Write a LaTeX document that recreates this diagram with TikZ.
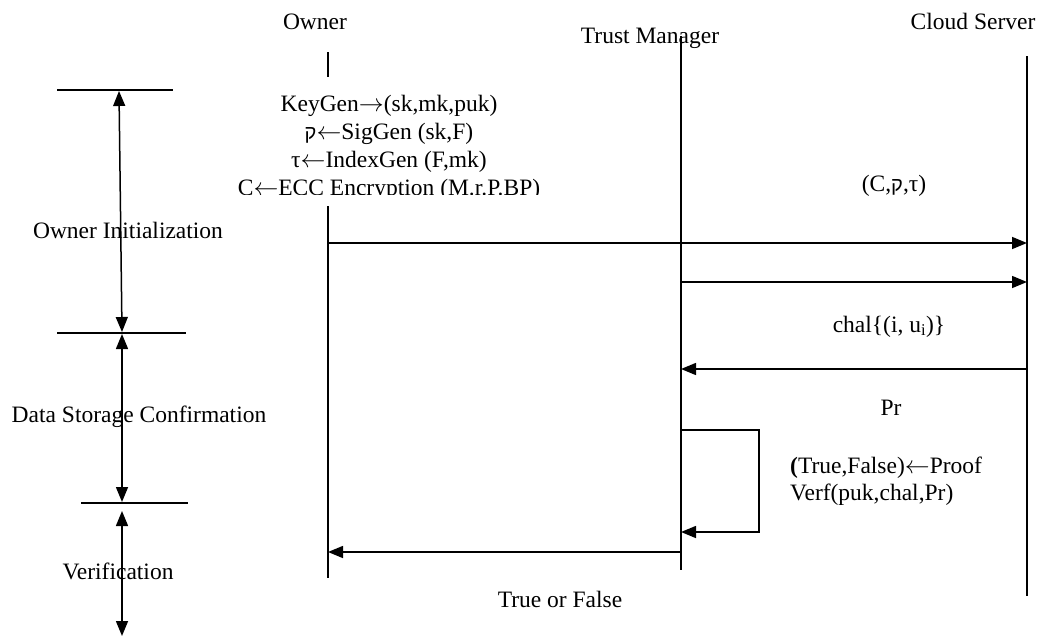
\documentclass[tikz,border=0pt]{standalone}
\usepackage{fontspec}
\setmainfont{Liberation Serif}
\newfontfamily\hebfont{Liberation Sans}
\usetikzlibrary{arrows.meta}
\newcommand{\qof}{{\hebfont\fontsize{20}{22}\selectfont ק}}
\newcommand{\ra}{\ensuremath{\rightarrow}}
\newcommand{\la}{\ensuremath{\leftarrow}}

\begin{document}
\begin{tikzpicture}[x=1pt,y=-1pt,
  every node/.style={font=\fontsize{23.5}{22}\selectfont, inner sep=0pt},
  lbl/.style={anchor=base},
  lifeline/.style={line width=1.5pt},
  tickline/.style={line width=1.5pt},
  msg/.style={line width=1.5pt, -{Triangle[length=15pt,width=12pt]}},
  phase/.style={line width=1.5pt, {Triangle[length=15pt,width=12pt]}-{Triangle[length=15pt,width=12pt]}}]
\useasboundingbox (0,0) rectangle (1037,637);

% participants
\node[lbl] (owner) at (315,30) {Owner};
\node[lbl] (tm)    at (650,43) {Trust Manager};
\node[lbl] (cloud) at (973,30) {Cloud Server};

% lifelines
\coordinate (o0) at (328,52);  \coordinate (o1) at (328,77);
\coordinate (o2) at (328,206); \coordinate (o3) at (328,578);
\coordinate (m0) at (681,36);  \coordinate (m1) at (681,570);
\coordinate (c0) at (1027,56); \coordinate (c1) at (1027,596);
\draw[lifeline] (o0) -- (o1);
\draw[lifeline] (o2) -- (o3);
\draw[lifeline] (m0) -- (m1);
\draw[lifeline] (c0) -- (c1);

% owner computations (the text frame cuts the last line)
\begin{scope}
  \clip (200,80) rectangle (620,194);
  \node[lbl] (kg)  at (389,111) {KeyGen\ra(sk,mk,puk)};
  \node[lbl] (sg)  at (389,139) {\qof\la SigGen (sk,F)};
  \node[lbl] (ig)  at (389,167) {τ\la IndexGen (F,mk)};
  \node[lbl] (enc) at (389,195) {C\la ECC Encryption (M.r.P.BP)};
\end{scope}

% messages
\coordinate (oa) at (328,243);  \coordinate (ca) at (1027,243);
\coordinate (ma) at (681,282);  \coordinate (cb) at (1027,282);
\coordinate (cc) at (1027,369); \coordinate (mc) at (681,369);
\coordinate (md) at (681,430);  \coordinate (le) at (759,430);
\coordinate (lf) at (759,532);  \coordinate (mf) at (681,532);
\coordinate (mg) at (681,552);  \coordinate (og) at (328,552);
\draw[msg] (oa) -- (ca);
\draw[msg] (ma) -- (cb);
\draw[msg] (cc) -- (mc);
\draw[msg] (md) -- (le) -- (lf) -- (mf);
\draw[msg] (mg) -- (og);

\node[lbl] (ctau) at (894,191) {(C,\qof,τ)};
\node[lbl] (chal) at (889,332) {chal\{(i, u\textsubscript{i})\}};
\node[lbl] (pr)   at (891,415) {Pr};
\node[lbl,anchor=base west] (tf) at (790,473) {\textbf{(}True,False)\la Proof};
\node[lbl,anchor=base west] (vf) at (790,500) {Verf(puk,chal,Pr)};
\node[lbl] (tof)  at (560,607) {True or False};

% phases
\coordinate (t1a) at (57,90);  \coordinate (t1b) at (173,90);
\coordinate (t2a) at (57,333); \coordinate (t2b) at (186,333);
\coordinate (t3a) at (81,503); \coordinate (t3b) at (188,503);
\draw[tickline] (t1a) -- (t1b);
\draw[tickline] (t2a) -- (t2b);
\draw[tickline] (t3a) -- (t3b);
\coordinate (p1a) at (119,91);  \coordinate (p1b) at (122,332);
\coordinate (p2a) at (122,334); \coordinate (p2b) at (122,502);
\coordinate (p3a) at (122,511); \coordinate (p3b) at (122,636);
\draw[phase] (p1a) -- (p1b);
\draw[phase] (p2a) -- (p2b);
\draw[phase] (p3a) -- (p3b);

\node[lbl] (pinit)  at (128,238) {Owner Initialization};
\node[lbl] (pstore) at (139,422) {Data Storage Confirmation};
\node[lbl] (pver)   at (118,579) {Verification};
\end{tikzpicture}
\end{document}
